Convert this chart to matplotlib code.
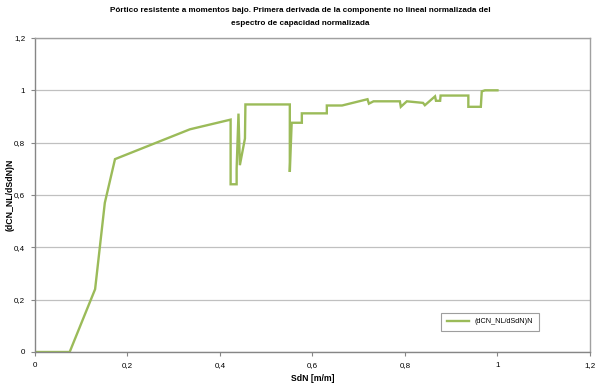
import matplotlib
matplotlib.use("Agg")
import matplotlib.pyplot as plt
from matplotlib.ticker import FuncFormatter, MultipleLocator

# data
sdn = [0.0, 0.075, 0.13, 0.151, 0.173, 0.335, 0.423, 0.423, 0.436, 0.436,
       0.440, 0.443, 0.454, 0.455, 0.551, 0.551, 0.555, 0.577, 0.577, 0.631,
       0.631, 0.664, 0.719, 0.722, 0.732, 0.789, 0.791, 0.804, 0.839, 0.843,
       0.865, 0.867, 0.876, 0.877, 0.937, 0.937, 0.964, 0.966, 0.973, 1.0]
dcn = [0.0, 0.0, 0.24, 0.57, 0.737, 0.851, 0.888, 0.641, 0.641, 0.70,
       0.911, 0.714, 0.816, 0.946, 0.946, 0.688, 0.876, 0.876, 0.912, 0.912,
       0.942, 0.942, 0.966, 0.949, 0.958, 0.958, 0.937, 0.958, 0.952, 0.943,
       0.977, 0.960, 0.960, 0.980, 0.980, 0.937, 0.937, 0.996, 1.0, 1.0]

title = ("Pórtico resistente a momentos bajo. Primera derivada de la componente no lineal normalizada del\n"
         "espectro de capacidad normalizada")
series_name = "(dCN_NL/dSdN)N"

plt.rcParams['font.family'] = ['Liberation Sans', 'DejaVu Sans']

fig = plt.figure(figsize=(6, 3.86), dpi=100)
ax = fig.add_axes([0.0583, 0.0881, 0.925, 0.8135])

ax.plot(sdn, dcn, color='#9BBB59', lw=1.7, label=series_name, solid_joinstyle='miter')

ax.set_xlim(0, 1.2)
ax.set_ylim(0, 1.2)
ax.xaxis.set_major_locator(MultipleLocator(0.2))
ax.yaxis.set_major_locator(MultipleLocator(0.2))
fmt = FuncFormatter(lambda v, p: ('%g' % round(v, 2)).replace('.', ','))
ax.xaxis.set_major_formatter(fmt)
ax.yaxis.set_major_formatter(fmt)
ax.tick_params(labelsize=5.8, length=3, width=0.8, color='#868686', pad=4)
ax.grid(axis='y', color='#c0c0c0', lw=0.9)
ax.set_axisbelow(True)

for s in ['left', 'bottom']:
    ax.spines[s].set_color('#868686')
    ax.spines[s].set_linewidth(1.0)
for s in ['top', 'right']:
    ax.spines[s].set_color('#a0a0a0')
    ax.spines[s].set_linewidth(1.0)

ax.set_xlabel('SdN [m/m]', fontsize=6.2, fontweight='bold', labelpad=4)
ax.set_ylabel(series_name, fontsize=6.3, fontweight='bold')
ax.yaxis.set_label_coords(-0.036, 0.5)
fig.suptitle(title, fontsize=5.9, fontweight='bold', y=0.982, linespacing=2.3)

leg = ax.legend(loc='center', bbox_to_anchor=(0.82, 0.096), fontsize=5.2,
                frameon=True, fancybox=False, handlelength=3,
                borderpad=0.8, edgecolor='#868686')
leg.get_frame().set_linewidth(0.8)

fig.savefig('out.png', dpi=100)
